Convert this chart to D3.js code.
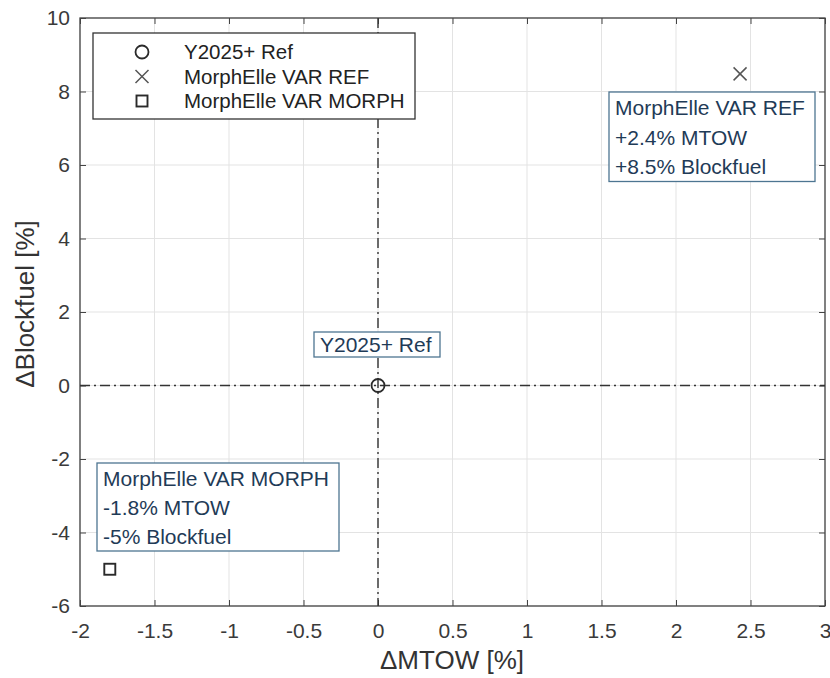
<!DOCTYPE html>
<html>
<head>
<meta charset="utf-8">
<script src="https://cdn.jsdelivr.net/npm/d3@7"></script>
<style>
  body { margin: 0; background: #fff; }
  svg { font-family: "Liberation Sans", Arial, sans-serif; }
</style>
</head>
<body>
<div id="chart"></div>
<script>
// data
const names = ['Y2025+ Ref', 'MorphElle VAR REF', 'MorphElle VAR MORPH'];
const markers = ['circle', 'cross', 'square'];
const dMtow = [0, 2.43, -1.8];
const dFuel = [0, 8.48, -5];
const notes = [
  ['Y2025+ Ref'],
  ['MorphElle VAR REF', '+2.4% MTOW', '+8.5% Blockfuel'],
  ['MorphElle VAR MORPH', '-1.8% MTOW', '-5% Blockfuel']
];
const xTicks = [-2, -1.5, -1, -0.5, 0, 0.5, 1, 1.5, 2, 2.5, 3];
const yTicks = [-6, -4, -2, 0, 2, 4, 6, 8, 10];

const W = 830, H = 678;
const pLeft = 80, pRight = 825, pTop = 18, pBottom = 606;

const svg = d3.select('#chart').append('svg')
  .attr('width', W).attr('height', H);

const x = d3.scaleLinear().domain([-2, 3]).range([pLeft, pRight]);
const y = d3.scaleLinear().domain([-6, 10]).range([pBottom, pTop]);

// grid
svg.append('g').selectAll('line').data(xTicks).enter().append('line')
  .attr('x1', d => x(d)).attr('x2', d => x(d))
  .attr('y1', pTop).attr('y2', pBottom)
  .attr('stroke', '#e3e3e3').attr('stroke-width', 1);
svg.append('g').selectAll('line').data(yTicks).enter().append('line')
  .attr('y1', d => y(d)).attr('y2', d => y(d))
  .attr('x1', pLeft).attr('x2', pRight)
  .attr('stroke', '#e3e3e3').attr('stroke-width', 1);

// axes, ticks pointing inward on all sides
const fmt = d => String(d);
function styleAxis(g) {
  g.select('.domain').remove();
  g.selectAll('.tick line').attr('stroke', '#444');
  g.selectAll('.tick text').attr('fill', '#3a3a3a').style('font-size', '21px');
}
svg.append('g').attr('transform', `translate(0,${pBottom})`)
  .call(d3.axisBottom(x).tickValues(xTicks).tickFormat(fmt).tickSizeInner(-6).tickPadding(17))
  .call(styleAxis);
svg.append('g').attr('transform', `translate(0,${pTop})`)
  .call(d3.axisTop(x).tickValues(xTicks).tickFormat('').tickSizeInner(-6))
  .call(styleAxis);
svg.append('g').attr('transform', `translate(${pLeft},0)`)
  .call(d3.axisLeft(y).tickValues(yTicks).tickFormat(fmt).tickSizeInner(-6).tickPadding(10))
  .call(styleAxis);
svg.append('g').attr('transform', `translate(${pRight},0)`)
  .call(d3.axisRight(y).tickValues(yTicks).tickFormat('').tickSizeInner(-6))
  .call(styleAxis);

// frame
svg.append('rect')
  .attr('x', pLeft).attr('y', pTop)
  .attr('width', pRight - pLeft).attr('height', pBottom - pTop)
  .attr('fill', 'none').attr('stroke', '#444').attr('stroke-width', 1.3);

// zero lines (dash-dot)
svg.append('line')
  .attr('x1', x(0)).attr('x2', x(0)).attr('y1', pTop).attr('y2', pBottom)
  .attr('stroke', '#333').attr('stroke-width', 1.4).attr('stroke-dasharray', '10,4,2,4');
svg.append('line')
  .attr('x1', pLeft).attr('x2', pRight).attr('y1', y(0)).attr('y2', y(0))
  .attr('stroke', '#333').attr('stroke-width', 1.4).attr('stroke-dasharray', '10,4,2,4');

// marker drawing
function drawMarker(g, type, cx, cy) {
  if (type === 'circle') {
    g.append('circle').attr('cx', cx).attr('cy', cy).attr('r', 6.5)
      .attr('fill', 'none').attr('stroke', '#2a2a2a').attr('stroke-width', 1.8);
  } else if (type === 'cross') {
    const s = 6.5;
    g.append('path')
      .attr('d', `M${cx - s},${cy - s}L${cx + s},${cy + s}M${cx - s},${cy + s}L${cx + s},${cy - s}`)
      .attr('stroke', '#555').attr('stroke-width', 1.5).attr('fill', 'none');
  } else {
    g.append('rect').attr('x', cx - 5.5).attr('y', cy - 5.5).attr('width', 11).attr('height', 11)
      .attr('fill', 'none').attr('stroke', '#2a2a2a').attr('stroke-width', 1.9);
  }
}

const pts = svg.append('g');
names.forEach((n, i) => drawMarker(pts, markers[i], x(dMtow[i]), y(dFuel[i])));

// annotation boxes
const noteBoxes = [
  { x: 314, y: 332, w: 126, lineH: 29 },
  { x: 609, y: 92, w: 206, lineH: 29.5 },
  { x: 97, y: 463, w: 242, lineH: 29 }
];
notes.forEach((lines, i) => {
  const b = noteBoxes[i];
  const h = lines.length === 1 ? 25 : lines.length * b.lineH + 1;
  const g = svg.append('g');
  g.append('rect').attr('x', b.x).attr('y', b.y).attr('width', b.w).attr('height', h)
    .attr('fill', '#fff').attr('stroke', '#4d7591').attr('stroke-width', 1.3);
  lines.forEach((t, j) => {
    g.append('text')
      .attr('x', b.x + 6)
      .attr('y', b.y + (lines.length === 1 ? 13 : b.lineH * (j + 0.5) + 1))
      .attr('dy', '0.35em')
      .attr('fill', '#1f3b57')
      .style('font-size', '21px')
      .text(t);
  });
});

// legend
const leg = svg.append('g');
leg.append('rect').attr('x', 93).attr('y', 33).attr('width', 322).attr('height', 86)
  .attr('fill', '#fff').attr('stroke', '#333').attr('stroke-width', 1.3);
names.forEach((n, i) => {
  const cy = 52 + i * 24.5;
  drawMarker(leg, markers[i], 142, cy);
  leg.append('text').attr('x', 184).attr('y', cy).attr('dy', '0.35em')
    .attr('fill', '#222').style('font-size', '20.5px').text(n);
});

// axis labels
svg.append('text').attr('x', 452).attr('y', 660)
  .attr('text-anchor', 'middle').attr('dy', '0.35em')
  .attr('fill', '#333').style('font-size', '26px').text('\u0394MTOW [%]');
svg.append('text')
  .attr('transform', `translate(25,304) rotate(-90)`)
  .attr('text-anchor', 'middle').attr('dy', '0.35em')
  .attr('fill', '#333').style('font-size', '26px').text('\u0394Blockfuel [%]');
</script>
</body>
</html>
